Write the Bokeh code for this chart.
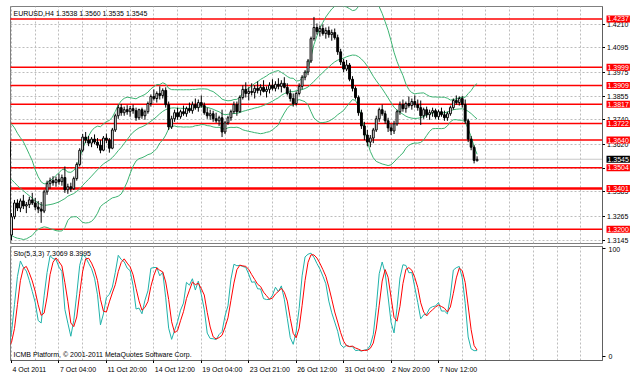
import numpy as np
import pandas as pd
from bokeh.plotting import figure
from bokeh.layouts import column, row
from bokeh.models import Range1d, FixedTicker, Grid, ColumnDataSource, CustomJSTickFormatter
from bokeh.core.properties import value
from bokeh.embed import file_html
from bokeh.resources import INLINE

# ---------------- data (EURUSD H4) ----------------
# bars before the visible window (needed by the indicators)
hist_open = [1.3575, 1.3590, 1.3600, 1.3630, 1.3580, 1.3560, 1.3590, 1.3580, 1.3560, 1.3580,
             1.3520, 1.3470, 1.3430, 1.3400, 1.3390, 1.3370, 1.3350, 1.3330, 1.3290, 1.3230]
hist_high = [1.3605, 1.3620, 1.3650, 1.3640, 1.3595, 1.3605, 1.3610, 1.3590, 1.3600, 1.3595,
             1.3530, 1.3485, 1.3445, 1.3420, 1.3410, 1.3390, 1.3365, 1.3345, 1.3300, 1.3245]
hist_low = [1.3560, 1.3575, 1.3590, 1.3570, 1.3545, 1.3550, 1.3565, 1.3545, 1.3550, 1.3510,
            1.3455, 1.3415, 1.3385, 1.3370, 1.3355, 1.3335, 1.3315, 1.3275, 1.3215, 1.3160]
hist_close = [1.3590, 1.3600, 1.3630, 1.3580, 1.3560, 1.3590, 1.3580, 1.3560, 1.3580, 1.3520,
              1.3470, 1.3430, 1.3400, 1.3390, 1.3370, 1.3350, 1.3330, 1.3290, 1.3230, 1.3172]

bar_open = [
    1.3172, 1.3262, 1.3330, 1.3305, 1.3340, 1.3315, 1.3322, 1.3345, 1.3330, 1.3310,
    1.3300, 1.3290, 1.3385, 1.3425, 1.3440, 1.3430, 1.3445, 1.3435, 1.3455, 1.3395,
    1.3410, 1.3400, 1.3450, 1.3520, 1.3590, 1.3655, 1.3640, 1.3625, 1.3645, 1.3630,
    1.3615, 1.3590, 1.3650, 1.3640, 1.3600, 1.3690, 1.3760, 1.3800, 1.3775, 1.3790,
    1.3780, 1.3795, 1.3785, 1.3750, 1.3790, 1.3760, 1.3780, 1.3820, 1.3855, 1.3845,
    1.3870, 1.3860, 1.3885, 1.3815, 1.3705, 1.3745, 1.3775, 1.3755, 1.3780, 1.3770,
    1.3795, 1.3785, 1.3815, 1.3800, 1.3825, 1.3810, 1.3775, 1.3760, 1.3770, 1.3745,
    1.3735, 1.3750, 1.3680, 1.3725, 1.3750, 1.3780, 1.3815, 1.3780, 1.3850, 1.3890,
    1.3870, 1.3880, 1.3875, 1.3895, 1.3885, 1.3900, 1.3880, 1.3890, 1.3910, 1.3895,
    1.3915, 1.3905, 1.3920, 1.3900, 1.3870, 1.3845, 1.3820, 1.3870, 1.3905, 1.3950,
    1.3975, 1.4030, 1.4140, 1.4195, 1.4175, 1.4190, 1.4165, 1.4180, 1.4160, 1.4170,
    1.4145, 1.4075, 1.4025, 1.3990, 1.4010, 1.3940, 1.3895, 1.3850, 1.3775, 1.3710,
    1.3665, 1.3630, 1.3650, 1.3690, 1.3745, 1.3790, 1.3770, 1.3735, 1.3700, 1.3685,
    1.3720, 1.3780, 1.3815, 1.3795, 1.3820, 1.3810, 1.3830, 1.3815, 1.3800, 1.3760,
    1.3790, 1.3765, 1.3775, 1.3785, 1.3755, 1.3780, 1.3765, 1.3750, 1.3770, 1.3800,
    1.3835, 1.3825, 1.3845, 1.3815, 1.3735, 1.3645, 1.3605, 1.3538]
bar_high = [
    1.3280, 1.3345, 1.3348, 1.3352, 1.3370, 1.3335, 1.3360, 1.3380, 1.3355, 1.3340,
    1.3335, 1.3395, 1.3440, 1.3455, 1.3462, 1.3460, 1.3475, 1.3470, 1.3510, 1.3425,
    1.3430, 1.3460, 1.3530, 1.3600, 1.3670, 1.3680, 1.3660, 1.3655, 1.3668, 1.3650,
    1.3640, 1.3660, 1.3672, 1.3650, 1.3700, 1.3770, 1.3815, 1.3818, 1.3805, 1.3812,
    1.3808, 1.3815, 1.3800, 1.3795, 1.3800, 1.3790, 1.3830, 1.3865, 1.3890, 1.3880,
    1.3905, 1.3895, 1.3900, 1.3830, 1.3760, 1.3790, 1.3800, 1.3790, 1.3810, 1.3805,
    1.3825, 1.3830, 1.3845, 1.3840, 1.3860, 1.3825, 1.3800, 1.3790, 1.3785, 1.3775,
    1.3760, 1.3790, 1.3735, 1.3760, 1.3790, 1.3830, 1.3830, 1.3860, 1.3910, 1.3925,
    1.3900, 1.3920, 1.3910, 1.3930, 1.3915, 1.3935, 1.3905, 1.3925, 1.3940, 1.3930,
    1.3945, 1.3935, 1.3950, 1.3920, 1.3890, 1.3870, 1.3880, 1.3920, 1.3960, 1.3985,
    1.4040, 1.4150, 1.4247, 1.4215, 1.4205, 1.4210, 1.4195, 1.4200, 1.4185, 1.4190,
    1.4160, 1.4090, 1.4040, 1.4035, 1.4020, 1.3955, 1.3905, 1.3860, 1.3790, 1.3730,
    1.3690, 1.3665, 1.3700, 1.3760, 1.3800, 1.3815, 1.3785, 1.3750, 1.3720, 1.3735,
    1.3790, 1.3830, 1.3840, 1.3830, 1.3855, 1.3845, 1.3860, 1.3840, 1.3835, 1.3800,
    1.3805, 1.3790, 1.3800, 1.3795, 1.3790, 1.3800, 1.3785, 1.3780, 1.3810, 1.3845,
    1.3860, 1.3855, 1.3858, 1.3840, 1.3745, 1.3660, 1.3615, 1.3560]
bar_low = [
    1.3146, 1.3250, 1.3290, 1.3285, 1.3300, 1.3280, 1.3305, 1.3320, 1.3295, 1.3280,
    1.3232, 1.3280, 1.3370, 1.3400, 1.3415, 1.3410, 1.3420, 1.3415, 1.3380, 1.3375,
    1.3385, 1.3395, 1.3440, 1.3510, 1.3580, 1.3625, 1.3610, 1.3605, 1.3620, 1.3600,
    1.3575, 1.3585, 1.3625, 1.3578, 1.3595, 1.3680, 1.3745, 1.3760, 1.3760, 1.3765,
    1.3755, 1.3770, 1.3735, 1.3740, 1.3745, 1.3740, 1.3770, 1.3805, 1.3835, 1.3825,
    1.3840, 1.3845, 1.3800, 1.3690, 1.3695, 1.3730, 1.3740, 1.3745, 1.3760, 1.3755,
    1.3775, 1.3770, 1.3790, 1.3780, 1.3800, 1.3765, 1.3745, 1.3740, 1.3730, 1.3725,
    1.3710, 1.3655, 1.3670, 1.3715, 1.3735, 1.3770, 1.3760, 1.3775, 1.3840, 1.3850,
    1.3835, 1.3860, 1.3845, 1.3870, 1.3860, 1.3875, 1.3850, 1.3870, 1.3885, 1.3880,
    1.3890, 1.3875, 1.3895, 1.3860, 1.3830, 1.3805, 1.3810, 1.3860, 1.3890, 1.3935,
    1.3960, 1.4020, 1.4130, 1.4160, 1.4150, 1.4155, 1.4140, 1.4145, 1.4130, 1.4135,
    1.4060, 1.4010, 1.3975, 1.3980, 1.3930, 1.3880, 1.3840, 1.3760, 1.3695, 1.3640,
    1.3610, 1.3605, 1.3625, 1.3680, 1.3730, 1.3760, 1.3720, 1.3680, 1.3665, 1.3670,
    1.3710, 1.3765, 1.3780, 1.3775, 1.3800, 1.3790, 1.3800, 1.3785, 1.3715, 1.3745,
    1.3750, 1.3740, 1.3755, 1.3745, 1.3740, 1.3755, 1.3735, 1.3735, 1.3760, 1.3790,
    1.3815, 1.3810, 1.3800, 1.3720, 1.3630, 1.3590, 1.3525, 1.3535]
bar_close = [
    1.3262, 1.3330, 1.3305, 1.3340, 1.3315, 1.3322, 1.3345, 1.3330, 1.3310, 1.3300,
    1.3290, 1.3385, 1.3425, 1.3440, 1.3430, 1.3445, 1.3435, 1.3455, 1.3395, 1.3410,
    1.3400, 1.3450, 1.3520, 1.3590, 1.3655, 1.3640, 1.3625, 1.3645, 1.3630, 1.3615,
    1.3590, 1.3650, 1.3640, 1.3600, 1.3690, 1.3760, 1.3800, 1.3775, 1.3790, 1.3780,
    1.3795, 1.3785, 1.3750, 1.3790, 1.3760, 1.3780, 1.3820, 1.3855, 1.3845, 1.3870,
    1.3860, 1.3885, 1.3815, 1.3705, 1.3745, 1.3775, 1.3755, 1.3780, 1.3770, 1.3795,
    1.3785, 1.3815, 1.3800, 1.3825, 1.3810, 1.3775, 1.3760, 1.3770, 1.3745, 1.3735,
    1.3750, 1.3680, 1.3725, 1.3750, 1.3780, 1.3815, 1.3780, 1.3850, 1.3890, 1.3870,
    1.3880, 1.3875, 1.3895, 1.3885, 1.3900, 1.3880, 1.3890, 1.3910, 1.3895, 1.3915,
    1.3905, 1.3920, 1.3900, 1.3870, 1.3845, 1.3820, 1.3870, 1.3905, 1.3950, 1.3975,
    1.4030, 1.4140, 1.4195, 1.4175, 1.4190, 1.4165, 1.4180, 1.4160, 1.4170, 1.4145,
    1.4075, 1.4025, 1.3990, 1.4010, 1.3940, 1.3895, 1.3850, 1.3775, 1.3710, 1.3665,
    1.3630, 1.3650, 1.3690, 1.3745, 1.3790, 1.3770, 1.3735, 1.3700, 1.3685, 1.3720,
    1.3780, 1.3815, 1.3795, 1.3820, 1.3810, 1.3830, 1.3815, 1.3800, 1.3760, 1.3790,
    1.3765, 1.3775, 1.3785, 1.3755, 1.3780, 1.3765, 1.3750, 1.3770, 1.3800, 1.3835,
    1.3825, 1.3845, 1.3815, 1.3735, 1.3645, 1.3605, 1.3540, 1.3545]

price_ticks = [1.3145, 1.3265, 1.3385, 1.3500, 1.3620, 1.3740, 1.3855, 1.3975, 1.4095, 1.4210]
level_prices = [1.4237, 1.3999, 1.3909, 1.3817, 1.3722, 1.3640, 1.3504, 1.3401, 1.3200]
level_widths = [1.5, 1.5, 1.5, 1.5, 1.5, 1.5, 1.5, 2.5, 1.5]
time_tick_bars = [0, 16, 32, 48, 64, 80, 96, 112, 128, 144]
time_tick_labels = ["4 Oct 2011", "7 Oct 04:00", "11 Oct 20:00", "14 Oct 12:00", "19 Oct 04:00",
                    "23 Oct 21:00", "26 Oct 12:00", "31 Oct 04:00", "2 Nov 20:00", "7 Nov 12:00"]
symbol_text = "EURUSD,H4"
sto_text = "Sto(5,3,3) 7.3069 8.3995"
copyright_text = "ICMB Platform, \u00a9 2001-2011 MetaQuotes Software Corp."

# ---------------- preparation ----------------
o = np.array(hist_open + bar_open)
h = np.array(hist_high + bar_high)
l = np.array(hist_low + bar_low)
c = np.array(hist_close + bar_close)
idx = np.arange(-len(hist_open), len(bar_open))

cs = pd.Series(c)
mid = cs.rolling(20).mean()
sd = cs.rolling(20).std(ddof=0)
upper = mid + 2 * sd
lower = mid - 2 * sd

hs, ls = pd.Series(h), pd.Series(l)
hh = hs.rolling(5).max()
ll = ls.rolling(5).min()
k = 100 * (cs - ll).rolling(3).sum() / (hh - ll).rolling(3).sum()
d = k.rolling(3).mean()

FONT = value("Liberation Sans")
FS = "7px"
X0, X1 = -0.34, 199.3
Y0, Y1 = 1.31302, 1.42986
S0, S1 = -3.7, 101.85
GRID_COL = "#BDBDBD"
AXIS_COL = "#606060"
blank = CustomJSTickFormatter(code="return ''")


def tick_only_axis(ax):
    ax.formatter = blank
    ax.major_label_text_font_size = "0px"
    ax.major_label_standoff = 0
    ax.major_tick_out = 3
    ax.major_tick_in = 0
    ax.minor_tick_out = 0
    ax.minor_tick_in = 0
    ax.axis_line_color = AXIS_COL
    ax.major_tick_line_color = "black"


def no_grid(fig):
    for g in fig.grid:
        g.visible = False


# ---------------- main price panel ----------------
p = figure(frame_width=592, frame_height=237, x_range=Range1d(X0, X1), y_range=Range1d(Y0, Y1),
           x_axis_location=None, y_axis_location="right", output_backend="svg",
           toolbar_location=None, min_border_left=10, min_border_right=3,
           min_border_top=6, min_border_bottom=3, outline_line_color="#808080",
           background_fill_color="white", border_fill_color="white")
no_grid(p)
p.add_layout(Grid(dimension=0, ticker=FixedTicker(ticks=list(range(0, 200, 8))),
                  grid_line_color=GRID_COL, grid_line_dash="2 2"), "center")
p.add_layout(Grid(dimension=1, ticker=FixedTicker(ticks=price_ticks),
                  grid_line_color=GRID_COL, grid_line_dash="2 2"), "center")
ya = p.yaxis[0]
ya.ticker = FixedTicker(ticks=price_ticks)
tick_only_axis(ya)

# horizontal levels and bid line (thin filled bands of fixed pixel height)
n_lv = len(level_prices)
span_x = (X0 + X1) / 2
span_w = X1 - X0 + 2
p.rect(x=[span_x] * n_lv, y=level_prices, width=[span_w] * n_lv, height=level_widths,
       height_units="screen", fill_color="#FF0000", line_color=None)
p.rect(x=[span_x], y=[bar_close[-1]], width=[span_w], height=[1], height_units="screen",
       fill_color="#C8C8C8", line_color=None)

# Bollinger bands
for band in (upper, mid, lower):
    p.line(idx, band, line_color="#3CB371", line_width=1)

# candles
src = ColumnDataSource(dict(x=idx, o=o, h=h, l=l, c=c,
                            top=np.maximum(o, c), bot=np.minimum(o, c),
                            fill=np.where(c >= o, "white", "black")))
p.segment(x0="x", y0="h", x1="x", y1="l", source=src, line_color="black", line_width=1)
p.vbar(x="x", width=0.62, top="top", bottom="bot", source=src,
       fill_color="fill", line_color="black", line_width=1)

p.text(x=[X0], y=[Y1], x_offset=3, y_offset=3,
       text=[f"{symbol_text}  {bar_open[-1]:.4f} {bar_high[-1]:.4f} {bar_low[-1]:.4f} {bar_close[-1]:.4f}"],
       text_align="left", text_baseline="top", text_color="black",
       text_font_size=FS, text_font=FONT)

# ---------------- price scale labels (right strip) ----------------
ps = figure(frame_width=33, frame_height=237, x_range=Range1d(0, 33), y_range=p.y_range,
            x_axis_location=None, y_axis_location=None, output_backend="svg",
            toolbar_location=None, min_border_left=0, min_border_right=0,
            min_border_top=6, min_border_bottom=3, outline_line_color=None,
            background_fill_color="white", border_fill_color="white")
no_grid(ps)
ps.text(x=[1.5] * len(price_ticks), y=price_ticks, text=[f"{t:.4f}" for t in price_ticks],
        text_align="left", text_baseline="middle", text_color="black",
        text_font_size=FS, text_font=FONT)
ps.text(x=[1.0] * n_lv, y=level_prices, text=[f"{t:.4f}" for t in level_prices],
        text_align="left", text_baseline="middle", text_color="white",
        text_font_size=FS, text_font=FONT, background_fill_color="#FF0000", padding=1)
ps.text(x=[1.0], y=[bar_close[-1]], text=[f"{bar_close[-1]:.4f}"],
        text_align="left", text_baseline="middle", text_color="white",
        text_font_size=FS, text_font=FONT, background_fill_color="black", padding=1)

# ---------------- stochastic panel ----------------
s = figure(frame_width=592, frame_height=114, x_range=p.x_range, y_range=Range1d(S0, S1),
           y_axis_location="right", output_backend="svg", toolbar_location=None,
           min_border_left=10, min_border_right=36, min_border_top=0, min_border_bottom=0,
           outline_line_color="#808080", background_fill_color="white",
           border_fill_color="white")
no_grid(s)
s.add_layout(Grid(dimension=0, ticker=FixedTicker(ticks=list(range(0, 200, 8))),
                  grid_line_color=GRID_COL, grid_line_dash="2 2"), "center")

sy = s.yaxis[0]
sy.ticker = FixedTicker(ticks=[0, 100])
sy.major_label_text_font_size = FS
sy.major_label_text_font = "Liberation Sans"
sy.major_label_text_color = "black"
sy.major_tick_out = 3
sy.major_tick_in = 0
sy.minor_tick_out = 0
sy.minor_tick_in = 0
sy.major_label_standoff = 3
sy.axis_line_color = AXIS_COL

sx = s.xaxis[0]
sx.ticker = FixedTicker(ticks=time_tick_bars)
tick_only_axis(sx)

s.line(idx, k, line_color="#20B2AA", line_width=1)
s.line(idx, d, line_color="#FF0000", line_width=1)

s.text(x=[X0], y=[S1], x_offset=3, y_offset=3, text=[sto_text], text_align="left",
       text_baseline="top", text_color="black", text_font_size=FS, text_font=FONT)
s.text(x=[X0], y=[S0], x_offset=3, y_offset=-3, text=[copyright_text], text_align="left",
       text_baseline="bottom", text_color="black", text_font_size=FS, text_font=FONT)

# ---------------- time labels strip ----------------
t = figure(frame_width=592, frame_height=17, x_range=p.x_range, y_range=Range1d(0, 1),
           x_axis_location=None, y_axis_location=None, output_backend="svg",
           toolbar_location=None, min_border_left=10, min_border_right=36,
           min_border_top=0, min_border_bottom=0, outline_line_color=None,
           background_fill_color="white", border_fill_color="white")
no_grid(t)
t.text(x=time_tick_bars, y=[1.0] * len(time_tick_bars), x_offset=1, y_offset=2,
       text=time_tick_labels, text_align="left", text_baseline="top", text_color="black",
       text_font_size=FS, text_font=FONT)

layout = column(row(p, ps, spacing=0), s, t, spacing=0)
open("out.html", "w").write(file_html(layout, INLINE))
